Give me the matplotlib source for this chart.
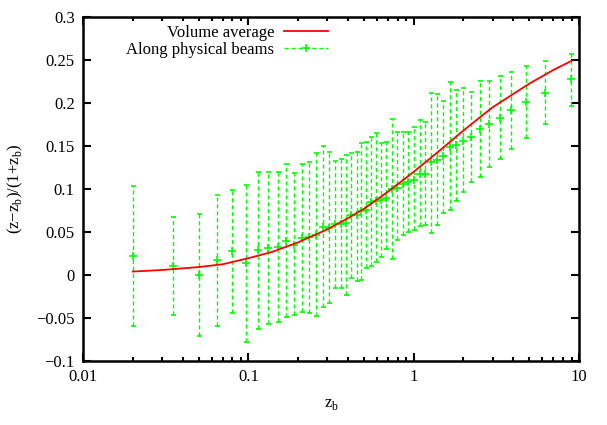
import matplotlib
matplotlib.use("Agg")
import matplotlib.pyplot as plt
from matplotlib.lines import Line2D
from matplotlib.ticker import FixedLocator, FixedFormatter, LogLocator, NullFormatter
import numpy as np

plt.rcParams['font.family'] = ['Liberation Serif', 'DejaVu Serif']
plt.rcParams['mathtext.fontset'] = 'custom'
plt.rcParams['mathtext.rm'] = 'Liberation Serif'

# volume-average curve
vol_z = [0.02, 0.03, 0.05, 0.07, 0.1, 0.14, 0.2, 0.3, 0.4, 0.5,
         0.7, 1.0, 1.4, 2.0, 2.5, 3.0, 4.0, 5.0, 7.0, 9.0]
vol_val = [0.004, 0.0058, 0.0092, 0.0125, 0.0195, 0.027, 0.038, 0.053, 0.066, 0.077,
           0.097, 0.120, 0.143, 0.168, 0.183, 0.195, 0.2105, 0.2225, 0.2385, 0.249]

# along physical beams: centre, upper and lower end of each bar
beam_z = [0.020, 0.035, 0.050, 0.065, 0.080, 0.097, 0.115, 0.132, 0.151, 0.170,
          0.189, 0.210, 0.232, 0.256, 0.281, 0.308, 0.333, 0.362, 0.388, 0.420,
          0.451, 0.483, 0.518, 0.555, 0.595, 0.638, 0.684, 0.744, 0.797, 0.862,
          0.924, 1.000, 1.087, 1.166, 1.267, 1.383, 1.503, 1.650, 1.811, 1.986,
          2.232, 2.506, 2.851, 3.308, 3.893, 4.797, 6.186, 8.975]
beam_val = [0.022, 0.010, 0.000, 0.017, 0.028, 0.014, 0.029, 0.031, 0.033, 0.039,
            0.035, 0.043, 0.044, 0.046, 0.056, 0.055, 0.059, 0.059, 0.060, 0.070,
            0.070, 0.074, 0.076, 0.085, 0.086, 0.087, 0.089, 0.100, 0.101, 0.106,
            0.108, 0.111, 0.118, 0.117, 0.131, 0.134, 0.138, 0.149, 0.151, 0.156,
            0.161, 0.170, 0.176, 0.183, 0.192, 0.2015, 0.212, 0.228]
beam_hi = [0.104, 0.067, 0.071, 0.093, 0.099, 0.105, 0.120, 0.120, 0.120, 0.129,
           0.119, 0.129, 0.131, 0.142, 0.150, 0.143, 0.133, 0.135, 0.140, 0.142,
           0.143, 0.153, 0.155, 0.160, 0.165, 0.154, 0.155, 0.181, 0.166, 0.166,
           0.166, 0.172, 0.180, 0.178, 0.212, 0.210, 0.202, 0.224, 0.215, 0.217,
           0.213, 0.225, 0.226, 0.231, 0.236, 0.243, 0.249, 0.257]
beam_lo = [-0.059, -0.047, -0.071, -0.059, -0.044, -0.078, -0.063, -0.057, -0.055, -0.049,
           -0.046, -0.043, -0.044, -0.048, -0.037, -0.032, -0.015, -0.015, -0.023, -0.003,
           -0.007, -0.006, 0.008, 0.010, 0.015, 0.021, 0.030, 0.019, 0.041, 0.047,
           0.050, 0.052, 0.057, 0.058, 0.049, 0.058, 0.072, 0.076, 0.086, 0.096,
           0.108, 0.114, 0.126, 0.135, 0.146, 0.159, 0.176, 0.197]

y_ticks = [-0.1, -0.05, 0, 0.05, 0.1, 0.15, 0.2, 0.25, 0.3]
y_labels = ['\u22120.1', '\u22120.05', '0', '0.05', '0.1', '0.15', '0.2', '0.25', '0.3']
x_ticks = [0.01, 0.1, 1, 10]
x_labels = ['0.01', '0.1', '1', '10']

red = '#ff0000'
green = '#00ff00'

fig = plt.figure(figsize=(6.07, 4.25), dpi=100)
ax = fig.add_axes([0.1367, 0.1506, 0.8173, 0.8094])

ax.plot(vol_z, vol_val, color=red, lw=1.3, zorder=3)

yerr = [np.array(beam_val) - np.array(beam_lo), np.array(beam_hi) - np.array(beam_val)]
eb = ax.errorbar(beam_z, beam_val, yerr=yerr, fmt='+', color=green, ms=6, mew=1.2,
                 elinewidth=1.0, capsize=1.8, capthick=1.0, zorder=2)
eb[2][0].set_linestyle((0, (3, 2)))

ax.set_xscale('log')
ax.set_xlim(0.01, 10)
ax.set_ylim(-0.1, 0.3)

ax.xaxis.set_major_locator(FixedLocator(x_ticks))
ax.xaxis.set_major_formatter(FixedFormatter(x_labels))
ax.xaxis.set_minor_locator(LogLocator(base=10, subs=np.arange(2, 10)))
ax.xaxis.set_minor_formatter(NullFormatter())
ax.yaxis.set_major_locator(FixedLocator(y_ticks))
ax.yaxis.set_major_formatter(FixedFormatter(y_labels))

ax.tick_params(which='both', direction='in', top=True, right=True, width=1.5,
               labelsize=12, pad=6)
ax.tick_params(which='major', length=6)
ax.tick_params(which='minor', length=3)
for sp in ax.spines.values():
    sp.set_linewidth(1.8)

ax.set_xlabel(r'z$_{\rm b}$', fontsize=12, labelpad=8)
ax.set_ylabel(r'(z$-$z$_{\rm b}$)/(1+z$_{\rm b}$)', fontsize=12, labelpad=8)

handles = [Line2D([], [], color=red, lw=1.3),
           Line2D([], [], color=green, lw=1.0, ls=(0, (3, 2)), marker='+', ms=6, mew=1.2)]
ax.legend(handles, ['Volume average', 'Along physical beams'], loc='upper right',
          bbox_to_anchor=(0.517, 1.01), frameon=False, markerfirst=False,
          fontsize=12, handlelength=2.6, handletextpad=0.6, labelspacing=0.05,
          borderaxespad=0.3)

fig.savefig('out.png', dpi=100)
